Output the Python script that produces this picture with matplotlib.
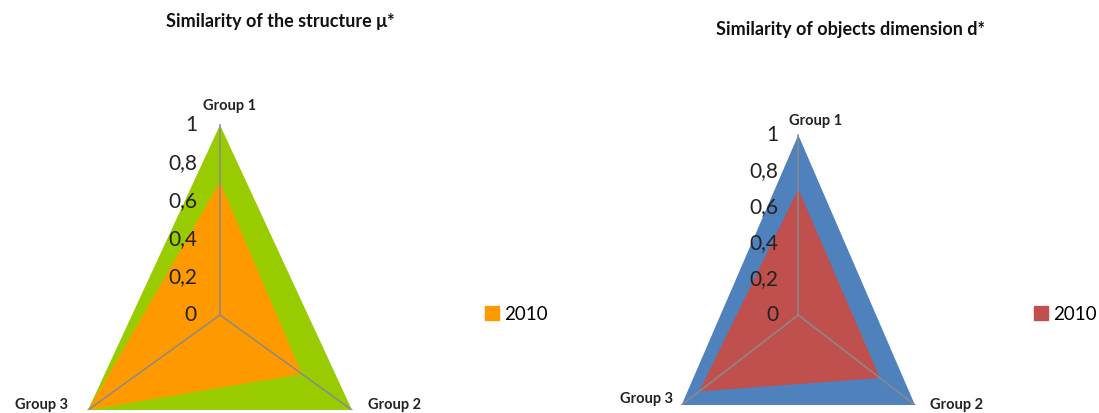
import numpy as np
import matplotlib
matplotlib.use("Agg")
import matplotlib.pyplot as plt
from matplotlib.patches import Patch

plt.rcParams["font.family"] = ["Lato", "DejaVu Sans"]

# ── data ──────────────────────────────────────────────────────────
categories   = ["Group 1", "Group 2", "Group 3"]
ticks        = [0, 0.2, 0.4, 0.6, 0.8, 1]
tick_labels  = ["0", "0,2", "0,4", "0,6", "0,8", "1"]

struct_ref   = [1.0, 1.0, 1.0]
struct_2010  = [0.70, 0.62, 1.0]
dim_ref      = [1.0, 1.0, 1.0]
dim_2010     = [0.70, 0.70, 0.85]

W, H = 1099, 413
fig = plt.figure(figsize=(W / 100, H / 100), dpi=100)

angles = np.deg2rad(90 - 120 * np.arange(len(categories)))


def to_xy(vals):
    v = np.asarray(vals, dtype=float)
    x = v * np.cos(angles)
    y = v * np.sin(angles)
    return np.append(x, x[0]), np.append(y, y[0])


def radar(rect, ref, cur, c_ref, c_cur, title, title_xy, leg_xy,
          lbl_off, tick_off):
    ax = fig.add_axes(rect)
    ax.set_xlim(-1.4, 1.4)
    ax.set_ylim(-0.5, 1.2)
    ax.axis("off")

    x, y = to_xy(ref)
    ax.fill(x, y, color=c_ref, lw=0)
    x, y = to_xy(cur)
    ax.fill(x, y, color=c_cur, lw=0, label="2010")

    # spokes
    for a in angles:
        ax.plot([0, np.cos(a)], [0, np.sin(a)], color="#8a8a8a", lw=1.1)

    # value labels along Group 1 axis
    for t, lab in zip(ticks, tick_labels):
        ax.annotate(lab, (0, t), xytext=(tick_off, 0), textcoords="offset pixels",
                    ha="right", va="center", fontsize=15, color="#222222")

    # category labels
    has = ["center", "left", "right"]
    for a, name, off, ha in zip(angles, categories, lbl_off, has):
        ax.annotate(name, (np.cos(a), np.sin(a)), xytext=off,
                    textcoords="offset pixels", ha=ha, va="center",
                    fontsize=10.5, fontweight="bold", color="#222222")

    fig.text(title_xy[0] / W, 1 - title_xy[1] / H, title, ha="center",
             va="center", fontsize=13, fontweight="bold", color="#111111")

    fig.legend(handles=[Patch(color=c_cur, label="2010")], loc="center left",
               bbox_to_anchor=(leg_xy[0] / W, 1 - leg_xy[1] / H),
               frameon=False, fontsize=13.5, handlelength=0.75,
               handleheight=0.75, handletextpad=0.25, borderpad=0,
               borderaxespad=0)
    return ax


# left chart: centre (220, 315) px, x scale 152 px/unit, y scale 190 px/unit
sx, sy, cx, cy = 152.4, 190, 220, 315
radar([(cx - 1.4 * sx) / W, 1 - (cy + 0.5 * sy) / H, 2.8 * sx / W, 1.7 * sy / H],
      struct_ref, struct_2010, "#99CC00", "#FF9900",
      "Similarity of the structure μ*", (280, 22), (485, 314),
      [(10, 19), (16, 5), (-20, 5)], -23)

# right chart: centre (798, 315) px
sx, sy, cx, cy = 134.7, 180, 798.3, 315
radar([(cx - 1.4 * sx) / W, 1 - (cy + 0.5 * sy) / H, 2.8 * sx / W, 1.7 * sy / H],
      dim_ref, dim_2010, "#4F81BD", "#C0504D",
      "Similarity of objects dimension d*", (850, 30), (1034, 314),
      [(17, 14), (15, 0), (-9, 6)], -20)

fig.savefig("out.png", dpi=100)
